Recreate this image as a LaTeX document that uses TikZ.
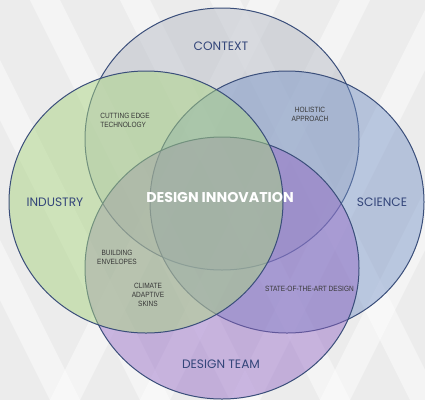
\documentclass[tikz,border=0pt]{standalone}
\usepackage{fontspec}
\setmainfont{Poppins}
\newfontfamily\smallfont[FakeStretch=0.86]{Liberation Sans}
\usetikzlibrary{calc}
\definecolor{bggray}{RGB}{236,236,236}
\definecolor{edgeblue}{RGB}{58,78,122}
\definecolor{labelblue}{RGB}{52,70,122}
\definecolor{contextgray}{RGB}{185,190,200}
\definecolor{sciblue}{RGB}{115,145,198}
\definecolor{teampurple}{RGB}{145,100,195}
\definecolor{industrygreen}{RGB}{170,212,130}
\tikzstyle{venn}=[draw=edgeblue, line width=1pt]
\tikzstyle{biglabel}=[text=labelblue, inner sep=0pt, font=\fontsize{12.2}{13}\selectfont]
\tikzstyle{smalllabel}=[text=black!78, inner sep=0pt, align=center, font=\smallfont\fontsize{7.6}{9}\selectfont]
\tikzstyle{band}=[white, opacity=0.45]
\newcommand{\vennset}[3]{% Syntax: {center}{fill colour}{fill opacity}
  \filldraw[venn, fill=#2, fill opacity=#3] (#1) ellipse [x radius=137, y radius=131];
}
\begin{document}
\begin{tikzpicture}[x=1pt,y=-1pt]
  \useasboundingbox (0,0) rectangle (425,400);
  % background with faint diagonal bands
  \fill[bggray] (0,0) rectangle (425,400);
  \begin{scope}
    \clip (0,0) rectangle (425,400);
    \foreach \s in {-150,-60,30,120,210} {
      \fill[band] (\s,0) -- (\s+30,0) -- (\s+230,400) -- (\s+200,400) -- cycle;
    }
    \foreach \s in {250,340,430,520} {
      \fill[band] (\s,0) -- (\s+30,0) -- (\s-170,400) -- (\s-200,400) -- cycle;
    }
  \end{scope}
  % the four sets
  \coordinate (contextc) at (222,139);
  \coordinate (industryc) at (146,202);
  \coordinate (sciencec) at (287,202);
  \coordinate (teamc) at (222,268);
  \vennset{contextc}{contextgray}{0.5}
  \vennset{sciencec}{sciblue}{0.45}
  \vennset{teamc}{teampurple}{0.45}
  \vennset{industryc}{industrygreen}{0.5}
  % set names
  \node[biglabel] (context) at (221,46) {CONTEXT};
  \node[biglabel] (industry) at (55,202) {INDUSTRY};
  \node[biglabel] (science) at (382,202) {SCIENCE};
  \node[biglabel] (team) at (221,364) {DESIGN TEAM};
  \node[text=white, inner sep=0pt, font=\bfseries\fontsize{14.2}{15}\selectfont] (innovation) at (220,197) {DESIGN INNOVATION};
  % overlap labels
  \node[smalllabel, align=left] (cutting) at (125,120.5) {CUTTING EDGE\\TECHNOLOGY};
  \node[smalllabel] (holistic) at (310,114.5) {HOLISTIC\\APPROACH};
  \node[smalllabel] (envelopes) at (117,257.5) {BUILDING\\ENVELOPES};
  \node[smalllabel] (climate) at (148,295) {CLIMATE\\ADAPTIVE\\SKINS};
  \node[smalllabel] (stateart) at (309.5,289) {STATE-OF-THE-ART DESIGN};
\end{tikzpicture}
\end{document}
